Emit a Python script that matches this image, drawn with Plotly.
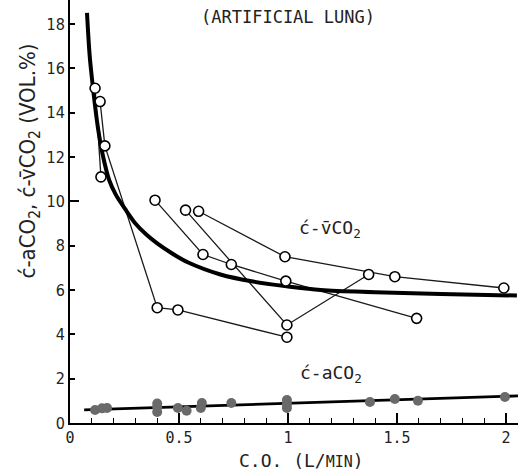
import plotly.graph_objects as go

# ---- data ----
# c - vCO2 : individual runs (open circles joined by thin lines)
run1_x = [0.115, 0.142]
run1_y = [15.1, 11.1]
run2_x = [0.138, 0.160, 0.40, 0.495, 0.995]
run2_y = [14.5, 12.5, 5.2, 5.1, 3.87]
run3_x = [0.39, 0.61, 0.74, 0.99, 1.59]
run3_y = [10.05, 7.6, 7.15, 6.4, 4.72]
run4_x = [0.53, 0.995, 1.37]
run4_y = [9.6, 4.42, 6.7]
run5_x = [0.59, 0.986, 1.49, 1.99]
run5_y = [9.55, 7.5, 6.6, 6.09]

# c - vCO2 : fitted curve (thick)
fit_v_x = [0.078, 0.09, 0.10, 0.115, 0.13, 0.15, 0.18, 0.21, 0.26, 0.30, 0.35,
           0.40, 0.46, 0.54, 0.69, 0.84, 1.0, 1.15, 1.4, 1.7, 2.05]
fit_v_y = [18.5, 16.6, 15.6, 14.3, 13.2, 12.1, 10.95, 10.3, 9.55, 9.0, 8.5,
           8.1, 7.7, 7.25, 6.7, 6.38, 6.16, 6.0, 5.9, 5.82, 5.75]

# c - aCO2 : points and regression line
a_x = [0.115, 0.147, 0.17, 0.40, 0.40, 0.40, 0.495, 0.535, 0.60, 0.605, 0.74,
       0.995, 0.995, 0.995, 1.376, 1.49, 1.596, 1.995]
a_y = [0.59, 0.66, 0.68, 0.72, 0.88, 0.50, 0.68, 0.55, 0.68, 0.90, 0.90,
       1.04, 0.85, 0.68, 0.95, 1.08, 1.00, 1.17]
fit_a_x = [0.065, 2.055]
fit_a_y = [0.59, 1.22]

x_tickvals = [0, 0.5, 1, 1.5, 2]
x_ticktext = ["0", "0.5", "1", "1.5", "2"]
y_tickvals = [0, 2, 4, 6, 8, 10, 12, 14, 16, 18]

MONO = "DejaVu Sans Mono, Liberation Mono, monospace"
NARROW = "Liberation Sans Narrow, DejaVu Sans Condensed, Arial Narrow, sans-serif"

fig = go.Figure()

runs = [(run1_x, run1_y), (run2_x, run2_y), (run3_x, run3_y),
        (run4_x, run4_y), (run5_x, run5_y)]

# thin connecting lines
for rx, ry in runs:
    fig.add_trace(go.Scatter(x=rx, y=ry, mode="lines",
                             line=dict(color="#1a1a1a", width=1.3),
                             hoverinfo="skip"))

# thick fitted curve
fig.add_trace(go.Scatter(x=fit_v_x, y=fit_v_y, mode="lines",
                         line=dict(color="black", width=4, shape="spline", smoothing=1.0),
                         hoverinfo="skip"))

# open circles
for rx, ry in runs:
    fig.add_trace(go.Scatter(x=rx, y=ry, mode="markers",
                             marker=dict(symbol="circle", size=10, color="white",
                                         line=dict(color="black", width=1.6))))

# c-aCO2 line and dots
fig.add_trace(go.Scatter(x=fit_a_x, y=fit_a_y, mode="lines",
                         line=dict(color="black", width=2.8), hoverinfo="skip"))
fig.add_trace(go.Scatter(x=a_x, y=a_y, mode="markers",
                         marker=dict(symbol="circle", size=10, color="#6a6a6a",
                                     line=dict(width=0))))

# helper trace for the long tick at 10 on the y axis
fig.add_trace(go.Scatter(x=[None], y=[None], yaxis="y2", hoverinfo="skip"))

YMAX = 19.08
fig.update_layout(
    width=524, height=475,
    margin=dict(l=70, r=6, t=0, b=52),
    plot_bgcolor="white", paper_bgcolor="white",
    showlegend=False,
    xaxis=dict(range=[0, 2.055], showline=True, linecolor="black", linewidth=2,
               showgrid=False, zeroline=False,
               ticks="inside", ticklen=10, tickwidth=1.5, tickcolor="black",
               tickmode="array", tickvals=x_tickvals, ticktext=x_ticktext,
               tickfont=dict(family=MONO, size=15, color="#222"),
               minor=dict(dtick=0.1, tick0=0, ticks="inside", ticklen=5,
                          tickwidth=1.3, tickcolor="black", showgrid=False)),
    yaxis=dict(range=[0, YMAX], showline=True, linecolor="black", linewidth=2,
               showgrid=False, zeroline=False,
               ticks="inside", ticklen=5, tickwidth=1.5, tickcolor="black",
               tickmode="array", tickvals=y_tickvals,
               tickfont=dict(family=NARROW, size=16, color="#222")),
    yaxis2=dict(range=[0, YMAX], overlaying="y", anchor="x", side="left",
                showline=False, showgrid=False, zeroline=False,
                ticks="inside", ticklen=9, tickwidth=1.5, tickcolor="black",
                tickmode="array", tickvals=[10], showticklabels=False),
)

fig.add_annotation(text="(ARTIFICIAL LUNG)", x=1.0, y=18.3, xref="x", yref="y",
                   showarrow=False, xanchor="center", yanchor="middle",
                   font=dict(family=MONO, size=17, color="#222"))
fig.add_annotation(text="ć-v̄CO<sub>2</sub>", x=1.04, y=8.75, xref="x", yref="y",
                   showarrow=False, xanchor="left", yanchor="middle",
                   font=dict(family=MONO, size=18, color="#222"))
fig.add_annotation(text="ć-aCO<sub>2</sub>", x=1.045, y=2.2, xref="x", yref="y",
                   showarrow=False, xanchor="left", yanchor="middle",
                   font=dict(family=MONO, size=18, color="#222"))
fig.add_annotation(text="C.O. (L/<span style='font-size:15px'>MIN</span>)",
                   x=1.06, y=-0.088, xref="x", yref="paper",
                   showarrow=False, xanchor="center", yanchor="middle",
                   font=dict(family=MONO, size=18, color="#222"))
fig.add_annotation(text="ć-aCO<sub>2</sub>, ć-v̄CO<sub>2</sub> (VOL.%)",
                   x=-0.09, y=0.62, xref="paper", yref="paper", textangle=-90,
                   showarrow=False, xanchor="center", yanchor="middle",
                   font=dict(family=NARROW, size=22, color="#222"))

fig.write_html("out.html")
